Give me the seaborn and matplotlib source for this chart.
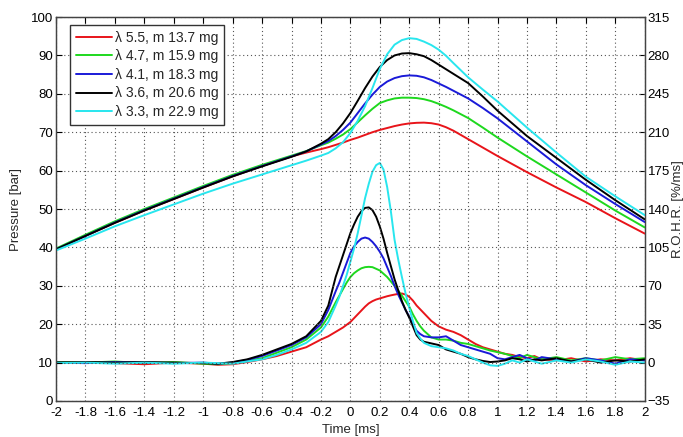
import numpy as np
import pandas as pd
import matplotlib
matplotlib.use("Agg")
import matplotlib.pyplot as plt
import seaborn as sns
from matplotlib.ticker import FuncFormatter

# ---------------- data ----------------
labels = ["λ 5.5, m 13.7 mg", "λ 4.7, m 15.9 mg", "λ 4.1, m 18.3 mg",
          "λ 3.6, m 20.6 mg", "λ 3.3, m 22.9 mg"]
colors = ["#e8141a", "#1ed81e", "#1a1ad8", "#000000", "#28e6ee"]

# pressure curves (left axis, bar)
t_p = [-2.0, -1.8, -1.6, -1.4, -1.2, -1.0, -0.8, -0.6, -0.4, -0.3,
       -0.2, -0.15, -0.1, -0.05, 0.0, 0.05, 0.1, 0.15, 0.2, 0.25, 0.3, 0.35,
       0.4, 0.45, 0.5, 0.55, 0.6, 0.65, 0.7,
       0.8, 0.9, 1.0, 1.2, 1.4, 1.6, 1.8, 2.0]

p_red = [39.5, 43.0, 46.4, 49.6, 52.6, 55.6, 58.5, 61.2, 63.7, 64.7,
         65.6, 66.1, 66.7, 67.3, 68.0, 68.6, 69.3, 70.0, 70.6, 71.1, 71.6, 72.0,
         72.3, 72.45, 72.5, 72.35, 72.0, 71.3, 70.4,
         68.2, 66.0, 63.8, 59.6, 55.6, 51.8, 47.6, 43.6]
p_green = [39.7, 43.3, 46.8, 50.0, 53.0, 56.0, 58.9, 61.5, 63.9, 65.1,
           66.6, 67.3, 68.3, 69.4, 70.8, 72.6, 74.4, 76.1, 77.6, 78.3, 78.8, 79.0,
           79.0, 78.9, 78.6, 78.1, 77.4, 76.6, 75.7,
           73.7, 71.2, 68.6, 63.7, 59.0, 54.3, 49.6, 45.2]
p_blue = [39.5, 43.0, 46.5, 49.7, 52.7, 55.7, 58.6, 61.2, 63.7, 65.0,
          66.8, 67.7, 69.0, 70.6, 72.5, 75.0, 77.5, 79.8, 81.8, 83.2, 84.1, 84.6,
          84.8, 84.7, 84.3, 83.6, 82.7, 81.8, 80.8,
          78.8, 76.3, 73.6, 67.6, 61.6, 56.2, 51.3, 46.6]
p_black = [39.5, 43.0, 46.4, 49.6, 52.6, 55.6, 58.5, 61.1, 63.6, 65.0,
           67.0, 68.2, 70.0, 72.3, 75.0, 78.2, 81.5, 84.5, 87.0, 88.8, 90.0, 90.5,
           90.6, 90.3, 89.8, 88.8, 87.6, 86.4, 85.2,
           82.8, 79.3, 75.6, 69.0, 63.3, 57.6, 52.3, 47.3]
p_cyan = [39.2, 42.3, 45.5, 48.4, 51.2, 54.0, 56.6, 59.0, 61.4, 62.6,
          63.9, 64.6, 65.8, 67.4, 69.8, 73.0, 76.8, 81.5, 86.5, 90.3, 92.8, 94.0,
          94.5, 94.3, 93.6, 92.7, 91.5, 89.9, 88.0,
          84.3, 81.1, 78.0, 71.2, 64.7, 58.4, 53.3, 48.4]

# rate of heat release curves (right axis, %/ms)
t_r = [-2.0, -1.8, -1.6, -1.4, -1.2, -1.0, -0.9, -0.8, -0.7, -0.6, -0.5, -0.4, -0.3,
       -0.2, -0.15,
       -0.1, -0.075, -0.05, -0.025, 0.0, 0.025, 0.05, 0.075, 0.1, 0.125, 0.15, 0.175,
       0.2, 0.225, 0.25, 0.275, 0.3, 0.325, 0.35, 0.375, 0.4, 0.425, 0.45, 0.475, 0.5,
       0.55, 0.6, 0.65, 0.7, 0.75, 0.8, 0.85, 0.9, 0.95, 1.0, 1.05, 1.1,
       1.15, 1.2, 1.25, 1.3, 1.4, 1.5, 1.6, 1.7, 1.8, 1.9, 2.0]

r_red = [0, 0.5, -0.5, -1.5, 0, -1, -2, -1.5, 0.5, 3, 6, 10, 14,
         21, 24,
         28, 30, 32, 34.5, 37, 40.5, 44, 47.5, 51, 54, 56, 57.5,
         58.5, 59.5, 60.5, 61.3, 62, 62.6, 63, 62, 60, 56.5, 52, 48.5, 45,
         38, 33, 30, 28, 25, 21, 17, 14, 12, 10, 8, 7,
         5, 4, 6, 3, 2, 4, 1, 3, 2, 4, 2]
r_green = [0.5, 0, 1, -0.5, 0.5, -1, -1.5, -0.5, 1.5, 4, 9, 14, 21,
           32, 42,
           55, 61, 67, 73, 78, 81.5, 84, 86, 87, 87.3, 87, 85.5,
           84, 81, 78, 74, 70, 65.5, 61, 56, 51, 44, 38, 33, 29,
           23, 21, 21, 20, 18, 17, 15, 13, 11, 9.5, 8, 6,
           4, 7, 5, 3, 5, 2, 4, 2, 5, 3, 4]
r_blue = [0, -0.5, 0.5, 0, -0.5, 0, -1, 0, 2.5, 6, 11, 16, 23,
          35, 48,
          65, 73, 82, 91, 100, 106, 110, 113, 114, 113, 110, 106,
          101, 95, 87, 79, 70, 62, 55, 48, 42, 35, 29, 26, 24,
          23, 23, 24, 20, 16, 14, 12, 10, 8, 4, 3, 5,
          7, 4, 2, 5, 3, 1, 4, 2, -1, 3, 2]
r_black = [0, 0.5, 0, 0.5, 0, -0.5, -1, 0.5, 3, 7, 12, 17, 24,
           38, 52,
           78, 88, 98, 108, 118, 126, 133, 138, 141, 141.5, 139, 133,
           124, 113, 100, 88, 76, 66, 56, 48, 41, 33, 25, 21, 19,
           17.5, 16, 12, 10, 8, 5, 3, 1.5, 0.5, 1, 2, 4,
           3, 1, 3, 2, 4, 1, 3, 0, 2, 1, 3]
r_cyan = [-0.5, 0, -1, 0, -1, 0, -0.5, -1, 1, 3, 7, 12, 18,
          28, 37,
          52, 60, 70, 80, 92, 104, 118, 134, 150, 163, 174, 180,
          182, 176, 160, 138, 112, 94, 78, 63, 50, 38, 27, 22, 18,
          15, 14, 13, 11, 8, 6, 3, 0, -2.5, -3, -1, 2,
          0, 3, 1, -1, 2, 0, 3, 1, -2, 1, 0]

p_ticks = list(range(0, 101, 10))
r_ticks = list(range(-35, 316, 35))
t_ticks = [round(-2 + 0.2 * i, 1) for i in range(21)]

# ---------------- frames ----------------
p_series = [p_red, p_green, p_blue, p_black, p_cyan]
r_series = [r_red, r_green, r_blue, r_black, r_cyan]
df_p = pd.concat([pd.DataFrame({"t": t_p, "v": v, "s": lab})
                  for v, lab in zip(p_series, labels)], ignore_index=True)
df_r = pd.concat([pd.DataFrame({"t": t_r, "v": v, "s": lab})
                  for v, lab in zip(r_series, labels)], ignore_index=True)
palette = dict(zip(labels, colors))

# ---------------- style ----------------
sns.set_style("white")
plt.rcParams["font.family"] = ["Liberation Sans", "DejaVu Sans"]
plt.rcParams["font.size"] = 9.5

fig = plt.figure(figsize=(6.83, 4.37), dpi=100)
ax = fig.add_axes([0.082, 0.0824, 0.862, 0.8786])
ax2 = ax.twinx()

sns.lineplot(data=df_p, x="t", y="v", hue="s", palette=palette, ax=ax,
             estimator=None, sort=False, legend=False, linewidth=1.4)
sns.lineplot(data=df_r, x="t", y="v", hue="s", palette=palette, ax=ax2,
             estimator=None, sort=False, legend=False, linewidth=1.4)

ax.set_xlim(-2, 2)
ax.set_ylim(0, 100)
ax2.set_ylim(-35, 315)
ax.set_xticks(t_ticks)
ax.set_yticks(p_ticks)
ax2.set_yticks(r_ticks)
ax.xaxis.set_major_formatter(FuncFormatter(lambda v, p: f"{v:g}"))
ax.grid(True, linestyle=(0, (1, 2.5)), color="#555555", linewidth=0.8)
ax2.grid(False)

for a in (ax, ax2):
    a.tick_params(direction="in", length=4, width=0.8, labelsize=9.5, colors="black")
    for sp in a.spines.values():
        sp.set_color("#444444")
        sp.set_linewidth(0.9)
ax.tick_params(axis="x", top=True, pad=4.5)
ax.tick_params(axis="y", pad=2)
ax2.tick_params(axis="y", pad=2)

ax.set_xlabel("Time [ms]", fontsize=9.5)
ax.set_ylabel("Pressure [bar]", fontsize=9.5)
ax2.set_ylabel("R.O.H.R. [%/ms]", fontsize=9.5)
ax.xaxis.set_label_coords(0.5, -0.06)
ax.yaxis.set_label_coords(-0.058, 0.5)
ax2.yaxis.set_label_coords(1.047, 0.5)

handles = ax.get_lines()[:5]
leg = ax.legend(handles, labels, loc="upper left", bbox_to_anchor=(0.024, 0.979),
                borderaxespad=0, fontsize=10, handlelength=2.6, handletextpad=0.25,
                labelspacing=0.33, borderpad=0.4, fancybox=False, framealpha=1,
                edgecolor="#333333")
leg.get_frame().set_linewidth(1.0)
ax.set_zorder(ax2.get_zorder() + 1)
ax.patch.set_visible(False)

fig.savefig("out.png", dpi=100)
